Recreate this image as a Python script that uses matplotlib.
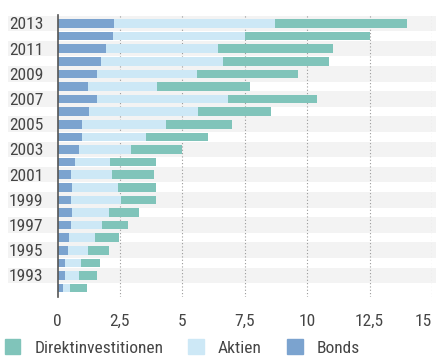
import numpy as np
import matplotlib.pyplot as plt
from matplotlib import font_manager
from matplotlib.patches import Rectangle
from matplotlib.transforms import blended_transform_factory

names = {f.name for f in font_manager.fontManager.ttflist}
fam = next((n for n in ['Liberation Sans Narrow', 'DejaVu Sans Condensed', 'Roboto Condensed',
                        'Open Sans Condensed', 'DejaVu Sans'] if n in names), 'DejaVu Sans')
plt.rcParams['font.family'] = [fam, 'DejaVu Sans']
plt.rcParams['font.stretch'] = 'condensed'

years = list(range(1992, 2014))
bonds = [0.21, 0.31, 0.31, 0.41, 0.47, 0.54, 0.59, 0.55, 0.57, 0.55, 0.70,
         0.87, 0.98, 0.99, 1.27, 1.58, 1.23, 1.57, 1.73, 1.94, 2.24, 2.28]
aktien = [0.30, 0.55, 0.63, 0.80, 1.03, 1.23, 1.48, 1.99, 1.87, 1.63, 1.39,
          2.09, 2.56, 3.34, 4.34, 5.26, 2.75, 4.00, 4.91, 4.50, 5.29, 6.44]
direkt = [0.66, 0.71, 0.77, 0.86, 0.97, 1.04, 1.19, 1.40, 1.50, 1.68, 1.84,
          2.03, 2.50, 2.65, 2.94, 3.54, 3.74, 4.06, 4.25, 4.59, 4.97, 5.28]
xticks = [0, 2.5, 5, 7.5, 10, 12.5, 15]
xtick_labels = ['0', '2,5', '5', '7,5', '10', '12,5', '15']

c_bonds = '#7ba3cf'
c_aktien = '#cde8f6'
c_direkt = '#80c4ba'
txt = '#454545'

W, H = 436, 358
fig = plt.figure(figsize=(W / 100, H / 100), dpi=100)
ax = fig.add_axes([57.5 / W, (H - 297) / H, (432 - 57.5) / W, 282 / H])

y = np.arange(len(years))
bonds = np.array(bonds)
aktien = np.array(aktien)
direkt = np.array(direkt)

ax.barh(y, bonds, height=0.68, color=c_bonds, zorder=3)
ax.barh(y, aktien, left=bonds, height=0.68, color=c_aktien, zorder=3)
ax.barh(y, direkt, left=bonds + aktien, height=0.68, color=c_direkt, zorder=3)

# grey stripes behind odd years, running across the whole figure
tr = blended_transform_factory(fig.transFigure, ax.transData)
for i, yr in enumerate(years):
    if yr % 2 == 1:
        ax.add_patch(Rectangle((8 / W, i - 0.62), 1, 1.24, transform=tr,
                               color='#f3f3f3', zorder=0, clip_on=False, lw=0))

ax.set_xlim(0, 15)
ax.set_ylim(-0.71, 21.67)
for xv in xticks[1:]:
    ax.axvline(xv, color='#9a9a9a', lw=0.8, ls=(0, (1, 2)), zorder=1)

ax.set_xticks(xticks)
ax.set_xticklabels(xtick_labels)
ax.get_xticklabels()[-1].set_horizontalalignment('right')
ax.set_yticks(y[1::2])
ax.set_yticklabels([str(v) for v in years[1::2]])
ax.tick_params(axis='x', length=0, pad=12, labelsize=12.5, colors=txt)
ax.tick_params(axis='y', length=0, pad=10, labelsize=12.5, colors=txt)

for s in ['top', 'right', 'bottom']:
    ax.spines[s].set_visible(False)
ax.spines['left'].set_color('#555555')
ax.spines['left'].set_linewidth(1.2)
ax.spines['left'].set_zorder(4)
ax.patch.set_visible(False)

handles = [Rectangle((0, 0), 1, 1, color=c) for c in (c_direkt, c_aktien, c_bonds)]
fig.legend(handles, ['Direktinvestitionen', 'Aktien', 'Bonds'], loc='lower left',
           bbox_to_anchor=(-0.025, -0.037), ncol=3, frameon=False, fontsize=12.5,
           handlelength=0.9, handleheight=0.9, handletextpad=0.8, columnspacing=1.45,
           labelcolor=txt)

fig.savefig('out.png', dpi=100)
